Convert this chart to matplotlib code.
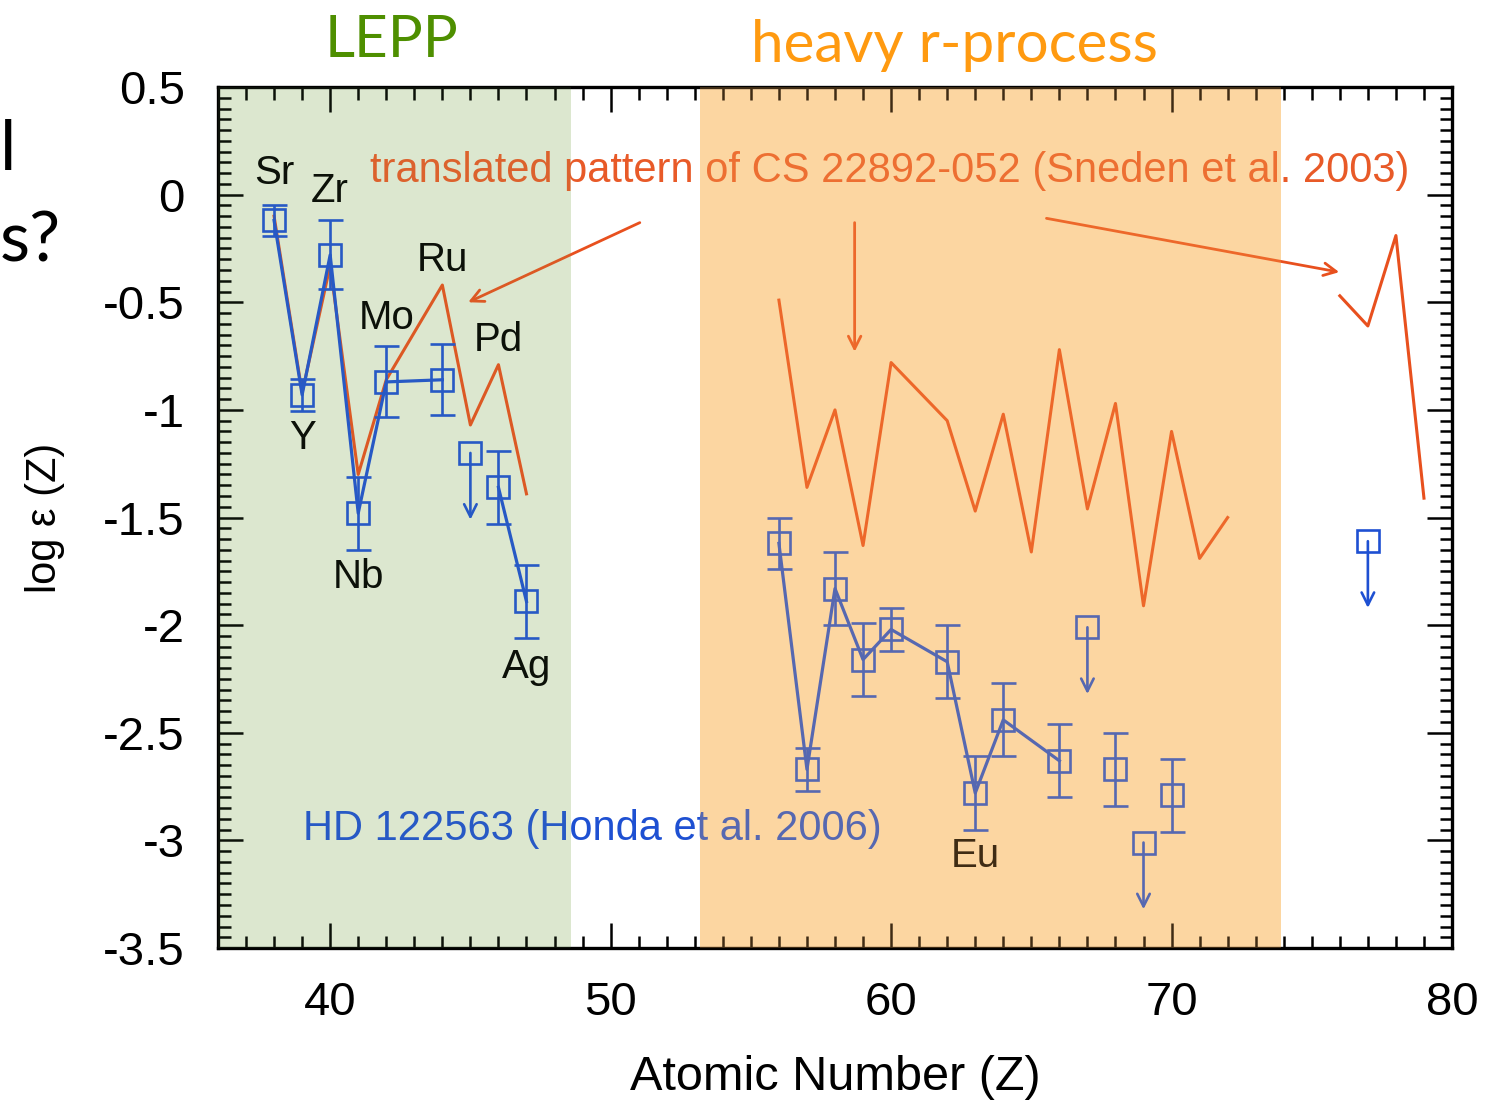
import matplotlib
matplotlib.use("Agg")
import matplotlib.pyplot as plt
from matplotlib.ticker import MultipleLocator, FormatStrFormatter

plt.rcParams['font.family'] = ['Liberation Sans', 'DejaVu Sans']
plt.rcParams['axes.unicode_minus'] = False

# ---------------- data ----------------
# HD 122563 (Honda et al. 2006) detections
hd_Z = [38, 39, 40, 41, 42, 44, 46, 47,
        56, 57, 58, 59, 60, 62, 63, 64, 66, 68, 70]
hd_logeps = [-0.12, -0.93, -0.28, -1.48, -0.87, -0.86, -1.36, -1.89,
             -1.62, -2.67, -1.83, -2.16, -2.02, -2.17, -2.78, -2.44, -2.63, -2.67, -2.79]
hd_err = [0.07, 0.075, 0.16, 0.17, 0.165, 0.165, 0.17, 0.17,
          0.12, 0.10, 0.17, 0.17, 0.10, 0.17, 0.17, 0.17, 0.17, 0.17, 0.17]
# connected groups (points in the same group are joined by a line)
hd_group = [0, 0, 0, 0, 0, 0, 1, 1,
            2, 2, 2, 2, 2, 2, 2, 2, 2, 3, 4]

# HD 122563 upper limits
ul_Z = [45, 67, 69, 77]
ul_logeps = [-1.20, -2.01, -3.01, -1.61]

# CS 22892-052 (Sneden et al. 2003), translated pattern, three pieces
sn_Z_a = [38, 39, 40, 41, 42, 44, 45, 46, 47]
sn_y_a = [-0.10, -0.92, -0.33, -1.30, -0.86, -0.42, -1.07, -0.79, -1.39]
sn_Z_b = [56, 57, 58, 59, 60, 62, 63, 64, 65, 66, 67, 68, 69, 70, 71, 72]
sn_y_b = [-0.49, -1.36, -1.00, -1.63, -0.78, -1.05, -1.47, -1.02, -1.66,
          -0.72, -1.46, -0.97, -1.91, -1.10, -1.69, -1.50]
sn_Z_c = [76, 77, 78, 79]
sn_y_c = [-0.47, -0.61, -0.19, -1.41]

# element labels: name, Z, offset (points) from the HD 122563 point
elem_names = ['Sr', 'Zr', 'Y', 'Nb', 'Mo', 'Ru', 'Pd', 'Ag', 'Eu']
elem_Z = [38, 40, 39, 41, 42, 44, 46, 47, 63]
elem_dy = [34, 46, -31, -46, 46, 86, 106, -47, -45]

x_ticks = [40, 50, 60, 70, 80]
y_ticks = [0.5, 0, -0.5, -1, -1.5, -2, -2.5, -3, -3.5]

# ---------------- style ----------------
blue = '#1E50D2'
red = '#E8501E'
red_text = '#E85A28'

fig = plt.figure(figsize=(14.92, 11.03), dpi=100)
ax = fig.add_axes([0.1461, 0.1405, 0.8271, 0.7806])
ax.set_xlim(36, 80)
ax.set_ylim(-3.5, 0.5)

# shaded regions (base colour below, translucent veil on top)
ax.axvspan(36, 48.6, color='#E8EFDD', lw=0, zorder=0)
ax.axvspan(36, 48.6, color='#78AA5A', alpha=0.10, lw=0, zorder=10)
ax.axvspan(53.2, 73.9, color='#FCE3BD', lw=0, zorder=0)
ax.axvspan(53.2, 73.9, color='#FFB050', alpha=0.25, lw=0, zorder=10)

# Sneden pattern
for zz, yy in [(sn_Z_a, sn_y_a), (sn_Z_b, sn_y_b), (sn_Z_c, sn_y_c)]:
    ax.plot(zz, yy, color=red, lw=2.2, zorder=3)

# HD 122563 connecting lines
for g in sorted(set(hd_group)):
    zz = [z for z, gg in zip(hd_Z, hd_group) if gg == g]
    yy = [y for y, gg in zip(hd_logeps, hd_group) if gg == g]
    if len(zz) > 1:
        ax.plot(zz, yy, color=blue, lw=2.3, zorder=4)

ax.errorbar(hd_Z, hd_logeps, yerr=hd_err, fmt='s', mfc='none', mec=blue,
            ms=16, mew=1.9, ecolor=blue, elinewidth=1.9, capsize=9,
            capthick=1.9, zorder=5)

# upper limits
ax.plot(ul_Z, ul_logeps, 's', mfc='none', mec=blue, ms=16, mew=1.9, zorder=5)
for z, y in zip(ul_Z, ul_logeps):
    ax.annotate('', xy=(z, y - 0.31), xytext=(z, y),
                arrowprops=dict(arrowstyle='->,head_length=0.9,head_width=0.45',
                                color=blue, lw=1.9, shrinkA=0, shrinkB=0),
                zorder=5)

# element labels
lut = dict(zip(hd_Z, hd_logeps))
for name, z, dy in zip(elem_names, elem_Z, elem_dy):
    ax.annotate(name, xy=(z, lut[z]), xytext=(0, dy), textcoords='offset points',
                ha='center', va='center', fontsize=29, color='black', zorder=6)

# annotations
ax.text(41.43, 0.11, 'translated pattern of CS 22892-052 (Sneden et al. 2003)',
        color=red_text, fontsize=30, ha='left', va='center', zorder=6)
ax.text(39.04, -2.945, 'HD 122563 (Honda et al. 2006)',
        color=blue, fontsize=30, ha='left', va='center', zorder=6)

arrows = [((51.04, -0.13), (44.92, -0.50)),
          ((58.70, -0.13), (58.70, -0.73)),
          ((65.54, -0.11), (75.98, -0.36))]
for tail, head in arrows:
    ax.annotate('', xy=head, xytext=tail,
                arrowprops=dict(arrowstyle='->,head_length=0.9,head_width=0.45',
                                color=red, lw=2.0, shrinkA=0, shrinkB=0),
                zorder=6)

# axes styling
ax.xaxis.set_major_locator(MultipleLocator(10))
ax.xaxis.set_minor_locator(MultipleLocator(1))
ax.yaxis.set_major_locator(MultipleLocator(0.5))
ax.yaxis.set_minor_locator(MultipleLocator(0.05))
ax.set_xticks(x_ticks)
ax.set_yticks(y_ticks)
ax.yaxis.set_major_formatter(FormatStrFormatter('%g'))
ax.tick_params(which='both', direction='in', top=True, right=True,
               width=1.8, colors='black', labelsize=34)
ax.tick_params(which='major', length=18)
ax.tick_params(which='minor', length=9)
ax.tick_params(axis='x', pad=24)
ax.tick_params(axis='y', pad=24)
for s in ax.spines.values():
    s.set_linewidth(2.4)

fig.text(835 / 1492, 1 - 1078 / 1103, 'Atomic Number (Z)', fontsize=35,
         ha='center', va='center')
fig.text(45 / 1492, 1 - 518 / 1103, 'log ε (Z)', fontsize=30, rotation=90,
         ha='center', va='center')

# slide titles
fig.text(392 / 1492, 1 - 57 / 1103, 'LEPP', color='#4E8F00', fontsize=42,
         family='Lato', ha='center', va='baseline')
fig.text(954 / 1492, 1 - 62 / 1103, 'heavy r-process', color='#FF9A10',
         fontsize=42, family='Lato', ha='center', va='baseline')
# slide text at left edge
fig.text(0.0, 1 - 170 / 1103, 'l', color='black', fontsize=50,
         family='Lato', ha='left', va='baseline')
fig.text(0.0, 1 - 262 / 1103, 's?', color='black', fontsize=50,
         family='Lato', ha='left', va='baseline')

fig.savefig('out.png', dpi=100)
